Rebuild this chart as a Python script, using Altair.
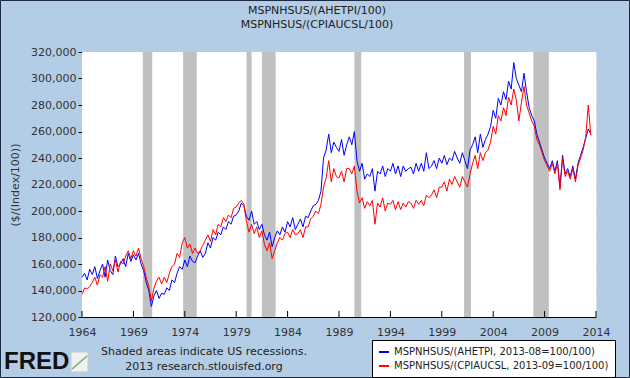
import altair as alt
import pandas as pd

# Quarterly readings (thousands of $), 1964Q1 ..
blue_vals = [
    150,153,148,156, 152,158,149,155, 160,150,163,155, 152,166,158,160,  # 1964-67
    164,158,168,162, 167,163,168,160, 155,146,140,128, 136,140,134,138,  # 1968-71
    137,142,140,148, 146,153,158,156, 163,158,166,162, 161,166,170,165,  # 1972-75
    168,176,172,180, 178,184,182,188, 186,192,190,196, 197,200,206,204,  # 1976-79
    196,193,200,190, 192,186,190,182, 178,184,173,180, 185,182,188,184,  # 1980-83
    192,188,195,186, 190,194,188,196, 195,200,204,205, 208,215,240,246,  # 1984-87
    258,244,252,248, 245,254,242,250, 256,250,260,238, 230,236,224,228,  # 1988-91
    226,232,215,230, 228,234,226,232, 230,236,228,234, 226,234,230,232,  # 1992-95
    233,228,236,230, 236,230,244,232, 234,238,232,240, 236,242,235,240,  # 1996-99
    238,245,240,236, 244,238,232,246, 250,256,244,258, 248,254,258,264,  # 2000-03
    276,270,285,280, 290,284,298,292, 312,300,295,290, 304,290,278,272,  # 2004-07
    268,258,252,246, 240,236,232,238, 230,238,218,242, 228,232,226,234,  # 2008-11
    224,236,242,248, 255,262,258,                                        # 2012-13
]
red_vals = [
    137,142,141,143, 146,150,144,152, 150,158,147,160, 155,163,154,162,
    160,166,170,164, 170,166,172,164, 158,150,143,132, 142,147,150,145,
    150,146,153,158, 160,168,165,176, 180,172,175,168, 172,168,170,174,
    178,182,177,186, 182,190,188,195, 192,197,195,202, 203,206,208,205,
    192,184,190,183, 188,180,185,175, 170,176,164,170, 176,180,178,183,
    184,180,186,182, 183,186,180,188, 188,194,196,200, 198,205,218,225,
    238,222,232,226, 225,230,222,232, 232,228,234,215, 206,210,202,207,
    204,208,190,206, 203,210,200,206, 205,208,201,207, 201,206,203,207,
    206,202,208,205, 208,204,212,210, 212,216,210,218, 218,222,215,224,
    220,226,222,218, 226,222,218,228, 236,242,232,244, 238,244,246,252,
    264,258,272,268, 278,272,286,280, 292,284,268,282, 294,280,274,268,
    264,254,250,244, 238,234,230,236, 228,236,216,240, 226,230,224,232,
    222,234,240,246, 256,280,257,
]
series_names = ["MSPNHSUS/(AHETPI, 2013-08=100/100)", "MSPNHSUS/(CPIAUCSL, 2013-09=100/100)"]
series_colors = ["#0000FF", "#FF0000"]

rec_start = ["1969-12-01", "1973-11-01", "1980-01-01", "1981-07-01", "1990-07-01", "2001-03-01", "2007-12-01"]
rec_end = ["1970-11-01", "1975-03-01", "1980-07-01", "1982-11-01", "1991-03-01", "2001-11-01", "2009-06-01"]

tick_years = list(range(1964, 2015, 5))
y_ticks = list(range(120000, 320001, 20000))

dates = pd.date_range("1964-01-01", periods=len(blue_vals), freq="QS-JAN").strftime("%Y-%m-%d").tolist()
df = pd.concat([
    pd.DataFrame({"date": dates, "value": [v * 1000 for v in blue_vals], "series": series_names[0]}),
    pd.DataFrame({"date": dates[:len(red_vals)], "value": [v * 1000 for v in red_vals], "series": series_names[1]}),
])
rec = pd.DataFrame({"start": rec_start, "end": rec_end})
ticks = pd.DataFrame({"d": [f"{y}-01-01" for y in tick_years]})

W, H = 514, 265
L, T = 82, 52
xscale = alt.Scale(domain=["1964-01-01", "2014-01-01"])

one = pd.DataFrame({"a": [0]})

plot_bg = alt.Chart(one).mark_rect(color="white").encode(
    x=alt.value(0), x2=alt.value(W), y=alt.value(0), y2=alt.value(H)
)

recs = alt.Chart(rec).mark_rect(color="#C0C0C0", clip=True).encode(
    x=alt.X("start:T", scale=xscale,
            axis=alt.Axis(values=[f"{y}-01-01" for y in tick_years], format="%Y", title=None,
                          tickSize=0, labelPadding=9, labelFlush=False, labelAlign="center",
                          grid=False, domainColor="#000", labelOverlap=False,
                          labelFont="DejaVu Sans", labelFontSize=11, labelColor="#333")),
    x2="end:T",
)

lines = alt.Chart(df).mark_line(strokeWidth=1, clip=True).encode(
    x=alt.X("date:T", scale=xscale),
    y=alt.Y("value:Q", scale=alt.Scale(domain=[120000, 320000], nice=False, zero=False),
            axis=alt.Axis(values=y_ticks, format=",.0f", title="($/(Index/100))",
                          tickSize=4, tickColor="#000", labelPadding=2, domainColor="#000",
                          gridColor="#A0A0A0", labelFont="DejaVu Sans", labelFontSize=11,
                          labelColor="#333", titleFont="DejaVu Sans", titleFontSize=11,
                          titleFontWeight="normal", titleColor="#333", titlePadding=10,
                          labelFlush=False, labelOverlap=False)),
    color=alt.Color("series:N", scale=alt.Scale(domain=series_names, range=series_colors),
                    legend=alt.Legend(title=None, orient="none", legendX=290, legendY=288,
                                      fillColor="white", strokeColor="#000", padding=6,
                                      symbolType="stroke", symbolSize=100, symbolStrokeWidth=2,
                                      labelFont="DejaVu Sans", labelFontSize=10, labelColor="#222",
                                      labelLimit=400, rowPadding=3)),
    detail="series:N",
)

tick_rules = alt.Chart(ticks).mark_rule(color="#000").encode(
    x=alt.X("d:T", scale=xscale), y=alt.value(H), y2=alt.value(H - 6)
)

def label(txt, x, y, size=11, weight="normal", color="#222", align="center", font="DejaVu Sans"):
    return alt.Chart(pd.DataFrame({"t": [txt]})).mark_text(
        align=align, baseline="middle", fontSize=size, fontWeight=weight, color=color, font=font
    ).encode(text="t:N", x=alt.value(x), y=alt.value(y))

decor = [
    label("MSPNHSUS/(AHETPI/100)", 317 - L, 11 - T),
    label("MSPNHSUS/(CPIAUCSL/100)", 317 - L, 25 - T),
    label("Shaded areas indicate US recessions.", 204 - L, 352 - T, size=11),
    label("2013 research.stlouisfed.org", 204 - L, 367 - T, size=11),
    label("FRED", 4 - L, 362 - T, size=24, weight="bold", color="#111", align="left",
          font="Liberation Sans"),
]

# small chart icon next to the FRED wordmark
icon_box = alt.Chart(one).mark_rect(fill="#EEF1EE", stroke="#C8CCC8", strokeWidth=1).encode(
    x=alt.value(71 - L), x2=alt.value(88 - L), y=alt.value(352 - T), y2=alt.value(372 - T)
)
icon_line = alt.Chart(one).mark_rule(color="#7DAA6A", strokeWidth=1.5).encode(
    x=alt.value(72 - L), x2=alt.value(87 - L), y=alt.value(369 - T), y2=alt.value(356 - T)
)

frame = alt.Chart(one).mark_rect(fillOpacity=0, stroke="#1c2940", strokeWidth=1).encode(
    x=alt.value(-L + 0.5), x2=alt.value(630 - L - 0.5), y=alt.value(-T + 0.5), y2=alt.value(378 - T - 0.5)
)

chart = alt.layer(plot_bg, recs, lines, tick_rules, *decor, icon_box, icon_line, frame).properties(
    width=W, height=H,
    autosize=alt.AutoSizeParams(type="none"),
    padding={"left": L, "top": T, "right": 630 - L - W, "bottom": 378 - T - H},
).configure_view(stroke=None).configure(background="#B4CDE6")

chart.save("out.html", embed_options={"renderer": "svg", "actions": False})
